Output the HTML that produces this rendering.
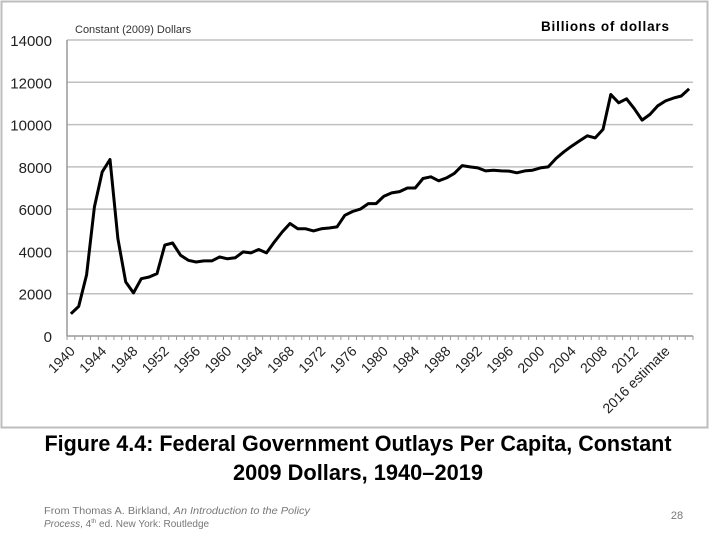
<!DOCTYPE html>
<html><head><meta charset="utf-8"><style>
html,body{margin:0;padding:0;background:#fff;}
svg{display:block;font-family:"Liberation Sans",sans-serif;}
</style></head><body>
<svg id="chart" width="720" height="540" viewBox="0 0 720 540" xmlns="http://www.w3.org/2000/svg">
<rect x="1.5" y="1.5" width="706" height="426" fill="#fff" stroke="#bdbdbd" stroke-width="2"/>
<g id="grid"></g>
<g id="yticks"></g>
<g id="xticks"></g>
<path id="line" fill="none" stroke="#000" stroke-width="3" stroke-linejoin="round"/>
<text x="75" y="33" font-size="11" fill="#333">Constant (2009) Dollars</text>
<text x="541" y="31" font-size="13.5" font-weight="bold" textLength="128">Billions of dollars</text>
<text x="358" y="451" font-size="22" font-weight="bold" text-anchor="middle" textLength="627" lengthAdjust="spacingAndGlyphs">Figure 4.4: Federal Government Outlays Per Capita, Constant</text>
<text x="358" y="480" font-size="22" font-weight="bold" text-anchor="middle" textLength="250" lengthAdjust="spacingAndGlyphs">2009 Dollars, 1940–2019</text>
<text x="44" y="514" font-size="10" fill="#777" textLength="266" lengthAdjust="spacingAndGlyphs">From Thomas A. Birkland, <tspan font-style="italic">An Introduction to the Policy</tspan></text>
<text x="44" y="527" font-size="10" fill="#777"><tspan font-style="italic">Process</tspan>, 4<tspan font-size="6" dy="-4">th</tspan><tspan dy="4"> ed. New York: Routledge</tspan></text>
<text x="677" y="519" font-size="11" fill="#777" text-anchor="middle">28</text>
</svg>
<script>
const years = [];
for (let y = 1940; y <= 2019; y++) years.push(y);
const values = [1050,1400,2900,6100,7760,8350,4600,2560,2040,2710,2790,2950,4300,4400,3820,3580,3500,3550,3550,3740,3650,3700,3980,3930,4090,3930,4450,4920,5320,5070,5070,4970,5070,5110,5160,5710,5890,6000,6260,6260,6610,6770,6830,7000,7000,7450,7530,7340,7480,7690,8060,8000,7950,7810,7840,7810,7800,7720,7810,7840,7950,8000,8400,8710,8980,9230,9470,9370,9770,11420,11030,11220,10750,10210,10480,10890,11120,11250,11350,11690];
const yTicks = [0,2000,4000,6000,8000,10000,12000,14000];
const xLabels = ["1940","1944","1948","1952","1956","1960","1964","1968","1972","1976","1980","1984","1988","1992","1996","2000","2004","2008","2012","2016 estimate"];

const NS = "http://www.w3.org/2000/svg";
const X0 = 67, X1 = 693, Y0 = 336, Y1 = 40, YMAX = 14000;
const band = (X1 - X0) / years.length;
const xScale = i => X0 + band * (i + 0.5);
const yScale = v => Y0 - (v / YMAX) * (Y0 - Y1);
function mk(tag, attrs, parent) {
  const e = document.createElementNS(NS, tag);
  for (const k in attrs) e.setAttribute(k, attrs[k]);
  parent.appendChild(e);
  return e;
}
const grid = document.getElementById('grid');
const yt = document.getElementById('yticks');
const xt = document.getElementById('xticks');
yTicks.forEach(v => {
  const y = yScale(v);
  const l = mk('line', {x1: X0, x2: X1, y1: y, y2: y, stroke: v === 0 ? '#999' : '#c0c0c0', 'stroke-width': 1.5}, grid);
  
  
  const t = mk('text', {x: 52, y: y + 6, 'font-size': 15, 'text-anchor': 'end', fill: '#222'}, yt);
  t.textContent = v;
  
  
});
const ax = mk('line', {x1: X0, x2: X0, y1: Y1, y2: Y0, stroke: '#999', 'stroke-width': 1.5}, grid);


for (let i = 0; i <= years.length; i++) {
  const x = X0 + band * i;
  const tk = mk('line', {x1: x, x2: x, y1: Y0, y2: Y0 + 4, stroke: '#999', 'stroke-width': 1}, grid);
  
  
}
xLabels.forEach((lab, k) => {
  const x = xScale(k * 4) + 5, y = Y0 + 16;
  const t = mk('text', {x: x, y: y, 'font-size': 14, 'text-anchor': 'end', fill: '#222', transform: `rotate(-45 ${x} ${y})`}, xt);
  t.textContent = lab;
  
  
});
document.getElementById('line').setAttribute('d', values.map((v, i) => (i ? 'L' : 'M') + xScale(i).toFixed(1) + ',' + yScale(v).toFixed(1)).join(' '));
</script>
</body></html>
